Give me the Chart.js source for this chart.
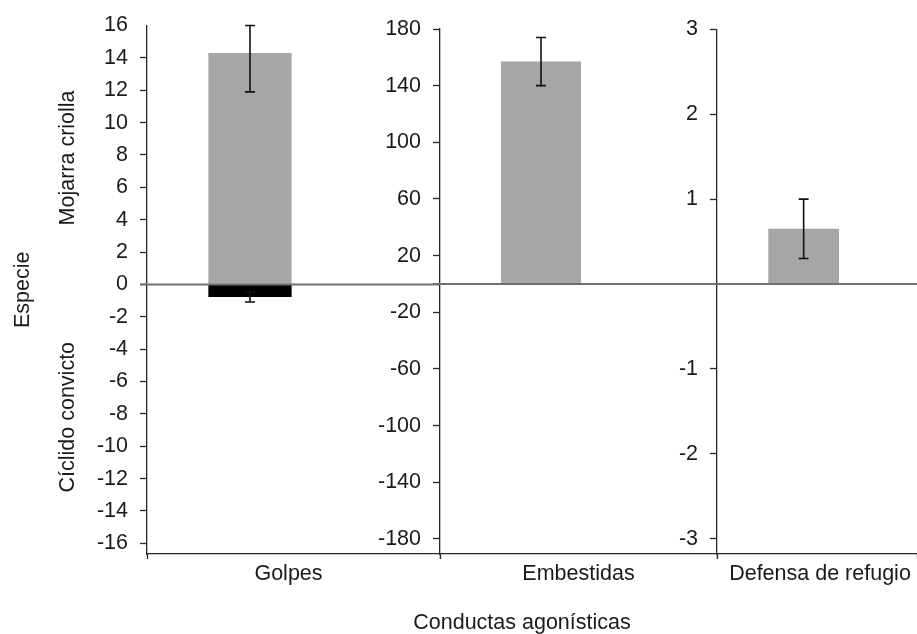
<!DOCTYPE html>
<html lang="es">
<head>
<meta charset="utf-8">
<title>Conductas agonísticas</title>
<script src="https://cdn.jsdelivr.net/npm/chart.js@4.4.1/dist/chart.umd.min.js"></script>
<style>
  html, body { margin: 0; padding: 0; background: #fff; }
  #figura { position: relative; width: 917px; height: 634px; overflow: hidden;
            font-family: "Liberation Sans", Arial, sans-serif; }
  .panel { position: absolute; top: 0; height: 634px; }
  #panelGolpes { left: 0; width: 440px; }
  #panelEmbestidas { left: 360px; width: 357px; }
  #panelDefensa { left: 640px; width: 277px; }
  #tituloX { position: absolute; left: 372px; width: 300px; top: 610px; text-align: center;
             font-size: 21.5px; line-height: 25px; color: #1a1a1a; }
</style>
</head>
<body>
<div id="figura">
  <div class="panel" id="panelGolpes"><canvas id="cGolpes"></canvas></div>
  <div class="panel" id="panelEmbestidas"><canvas id="cEmbestidas"></canvas></div>
  <div class="panel" id="panelDefensa"><canvas id="cDefensa"></canvas></div>
  <div id="tituloX">Conductas agonísticas</div>
</div>
<script>
// --- Datos ---
const categorias = ['Golpes', 'Embestidas', 'Defensa de refugio'];
const especies = ['Mojarra criolla', 'Cíclido convicto'];
const tituloEspecie = 'Especie';

const mojarraMedia = [14.3, 157, 0.65];
const mojarraErrMin = [11.9, 140, 0.3];
const mojarraErrMax = [16.0, 174, 1.0];

const convictoMedia = [-0.78, 0, 0];
const convictoErrMin = [-1.09, null, null];
const convictoErrMax = [-0.47, null, null];

const ticksGolpes = [-16, -14, -12, -10, -8, -6, -4, -2, 0, 2, 4, 6, 8, 10, 12, 14, 16];
const ticksEmbestidas = [-180, -140, -100, -60, -20, 20, 60, 100, 140, 180];
const ticksDefensa = [-3, -2, -1, 1, 2, 3];

const COLOR_TEXTO = '#1a1a1a';
const COLOR_EJE = '#262626';
const FUENTE = '"Liberation Sans", Arial, sans-serif';

Chart.defaults.font.family = FUENTE;
Chart.defaults.font.size = 21.5;
Chart.defaults.color = COLOR_TEXTO;

// cada panel es un gráfico aparte, como en el original
const paneles = [
  { canvas: 'cGolpes', i: 0, ticks: ticksGolpes, min: -16.66, max: 16, anchoEje: 147, arriba: 25.5,
    cp: 0.594, bp: 0.957, labelOffset: -5, sinMarca: 16 },
  { canvas: 'cEmbestidas', i: 1, ticks: ticksEmbestidas, min: -190.6, max: 180, anchoEje: 80, arriba: 29,
    cp: 0.5415, bp: 1.067, labelOffset: 0, sinMarca: null },
  { canvas: 'cDefensa', i: 2, ticks: ticksDefensa, min: -3.18, max: 3, anchoEje: 77, arriba: 29.3,
    cp: 0.267, bp: 2.65, labelOffset: 3, sinMarca: null }
];

// línea del cero que cruza todos los paneles
const lineaCero = {
  id: 'lineaCero',
  afterDatasetsDraw(chart) {
    const { ctx, chartArea, scales: { y } } = chart;
    const y0 = y.getPixelForValue(0);
    ctx.save();
    ctx.strokeStyle = '#707070';
    ctx.lineWidth = 2;
    ctx.beginPath();
    ctx.moveTo(chartArea.left - 7, y0);
    ctx.lineTo(chartArea.right, y0);
    ctx.stroke();
    ctx.restore();
  }
};

const barrasError = {
  id: 'barrasError',
  afterDatasetsDraw(chart) {
    const { ctx, scales: { y } } = chart;
    chart.data.datasets.forEach((ds, d) => {
      if (!ds.errMin) return;
      chart.getDatasetMeta(d).data.forEach((bar, k) => {
        const lo = ds.errMin[k], hi = ds.errMax[k];
        if (lo == null || hi == null) return;
        const yLo = y.getPixelForValue(lo), yHi = y.getPixelForValue(hi);
        ctx.save();
        ctx.strokeStyle = '#111';
        ctx.lineWidth = 1.6;
        ctx.beginPath();
        ctx.moveTo(bar.x, yLo); ctx.lineTo(bar.x, yHi);
        ctx.moveTo(bar.x - 5, yLo); ctx.lineTo(bar.x + 5, yLo);
        ctx.moveTo(bar.x - 5, yHi); ctx.lineTo(bar.x + 5, yHi);
        ctx.stroke();
        ctx.restore();
      });
    });
  }
};

// rótulos verticales del primer panel
const rotulosEspecie = {
  id: 'rotulosEspecie',
  afterDraw(chart) {
    const { ctx, chartArea, scales: { y } } = chart;
    const y0 = y.getPixelForValue(0);
    const escribir = (texto, x, yc) => {
      ctx.save();
      ctx.translate(x, yc);
      ctx.rotate(-Math.PI / 2);
      ctx.fillText(texto, 0, 0);
      ctx.restore();
    };
    ctx.save();
    ctx.font = '21.5px ' + FUENTE;
    ctx.fillStyle = COLOR_TEXTO;
    ctx.textAlign = 'center';
    ctx.textBaseline = 'alphabetic';
    escribir(tituloEspecie, 28.5, (chartArea.top + chartArea.bottom) / 2);
    escribir(especies[0], 74, (chartArea.top + y0) / 2 + 3);
    escribir(especies[1], 74, (y0 + chartArea.bottom) / 2 - 2);
    ctx.restore();
  }
};

function crearPanel(p) {
  const barra = { borderWidth: 0, categoryPercentage: p.cp, barPercentage: p.bp };
  const plugins = [lineaCero, barrasError];
  if (p.i === 0) plugins.push(rotulosEspecie);

  return new Chart(document.getElementById(p.canvas), {
    type: 'bar',
    data: {
      labels: [categorias[p.i]],
      datasets: [
        { ...barra, label: especies[0], data: [mojarraMedia[p.i]], stack: 'especie',
          errMin: [mojarraErrMin[p.i]], errMax: [mojarraErrMax[p.i]], backgroundColor: '#a6a6a6' },
        { ...barra, label: especies[1], data: [convictoMedia[p.i]], stack: 'especie',
          errMin: [convictoErrMin[p.i]], errMax: [convictoErrMax[p.i]], backgroundColor: '#000000' },
        // hueco vacío: deja las barras a la izquierda del centro, como en la figura
        { ...barra, label: '', data: [0], stack: 'hueco', backgroundColor: 'rgba(0,0,0,0)' }
      ]
    },
    options: {
      responsive: true,
      maintainAspectRatio: false,
      animation: false,
      layout: { padding: { top: p.arriba, right: 0, bottom: 0, left: 0 } },
      plugins: { legend: { display: false }, tooltip: { enabled: false } },
      scales: {
        x: {
          type: 'category',
          offset: true,
          grid: { drawOnChartArea: false, offset: true, tickLength: 5, tickColor: COLOR_EJE, tickWidth: 1.3 },
          border: { color: COLOR_EJE, width: 1.3 },
          ticks: { padding: 2, maxRotation: 0, autoSkip: false, labelOffset: p.labelOffset },
          afterFit: s => { s.height = 80; }
        },
        y: {
          min: p.min,
          max: p.max,
          afterBuildTicks: s => { s.ticks = p.ticks.map(v => ({ value: v })); },
          afterFit: s => { s.width = p.anchoEje; },
          grid: {
            drawOnChartArea: false, tickLength: 7, tickWidth: 1.3,
            tickColor: c => (c.tick && c.tick.value === p.sinMarca ? 'rgba(0,0,0,0)' : COLOR_EJE)
          },
          border: { color: COLOR_EJE, width: 1.3 },
          ticks: { padding: 12, autoSkip: false, callback: v => String(v) }
        }
      }
    },
    plugins
  });
}

window.onload = () => paneles.forEach(crearPanel);
</script>
</body>
</html>
